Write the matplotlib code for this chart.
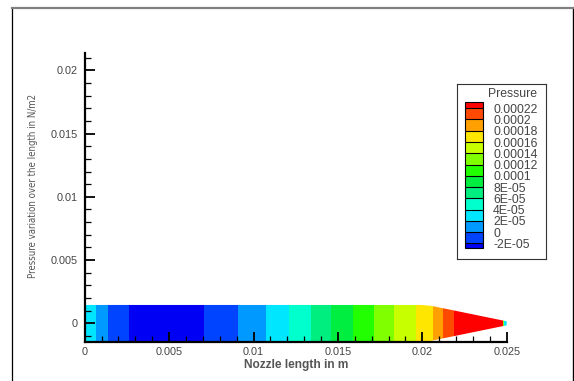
import numpy as np
import matplotlib.pyplot as plt
from matplotlib.colors import ListedColormap, BoundaryNorm
from matplotlib.patches import Polygon
from matplotlib.lines import Line2D
from matplotlib.ticker import MultipleLocator

# centreline pressure along the nozzle (m, N/m2)
x_nodes = [0.0, 0.00065, 0.00136, 0.00261, 0.0048, 0.00705, 0.00906, 0.01072,
           0.01209, 0.01339, 0.01457, 0.01588, 0.01712, 0.0183, 0.01961,
           0.02062, 0.02121, 0.02186, 0.0236, 0.02478, 0.02484, 0.025]
p_nodes = [4.3e-05, 2e-05, 0.0, -2e-05, -3e-05, -2e-05, 0.0, 2e-05,
           4e-05, 6e-05, 8e-05, 1e-04, 1.2e-04, 1.4e-04, 1.6e-04,
           1.8e-04, 2e-04, 2.2e-04, 2.35e-04, 2.3e-04, 3e-05, 3e-05]

# nozzle wall (half height) along x
x_wall = [0.0, 0.0199, 0.0205, 0.025]
h_wall = [0.00145, 0.00145, 0.00139, 0.00016]

# contour levels and legend
levels = [-2e-05, 0.0, 2e-05, 4e-05, 6e-05, 8e-05, 1e-04, 1.2e-04,
          1.4e-04, 1.6e-04, 1.8e-04, 2e-04, 2.2e-04]
level_labels = ['-2E-05', '0', '2E-05', '4E-05', '6E-05', '8E-05', '0.0001',
                '0.00012', '0.00014', '0.00016', '0.00018', '0.0002', '0.00022']
band_colors = ['#0044ff', '#0099ff', '#00e6ff', '#00ffcc', '#00ee80', '#00ee40',
               '#22ff00', '#80ff00', '#c8ff00', '#ffe600', '#ffa000', '#ff4800']
under_color = '#0000f5'
over_color = '#ff0000'

x_ticks = [0, 0.005, 0.01, 0.015, 0.02, 0.025]
x_labels = ['0', '0.005', '0.01', '0.015', '0.02', '0.025']
y_ticks = [0, 0.005, 0.01, 0.015, 0.02]
y_labels = ['0', '0.005', '0.01', '0.015', '0.02']

plt.rcParams['font.family'] = ['Liberation Sans', 'DejaVu Sans']
W, H = 574, 381
fig = plt.figure(figsize=(W / 100, H / 100), dpi=100)

ax = fig.add_axes([84.7 / W, 1 - 342 / H, 422 / W, 288.7 / H])

xg = np.linspace(0, 0.025, 1200)
yg = np.linspace(-0.0016, 0.0016, 40)
X, Y = np.meshgrid(xg, yg)
P = np.interp(X, x_nodes, p_nodes)

cmap = ListedColormap(band_colors)
cmap.set_under(under_color)
cmap.set_over(over_color)
norm = BoundaryNorm(levels, cmap.N)
cs = ax.contourf(X, Y, P, levels=levels, cmap=cmap, norm=norm, extend='both',
                 antialiased=False)

# clip the flood to the nozzle outline
outline = np.column_stack([np.r_[x_wall, x_wall[::-1]],
                           np.r_[h_wall, -np.array(h_wall[::-1])]])
nozzle = Polygon(outline, closed=True, transform=ax.transData)
cs.set_clip_path(nozzle)

ax.set_xlim(0, 0.025)
ax.set_ylim(-0.001478, 0.021344)
ax.set_xticks(x_ticks)
ax.set_xticklabels(x_labels)
ax.set_yticks(y_ticks)
ax.set_yticklabels(y_labels)
ax.xaxis.set_minor_locator(MultipleLocator(0.001))
ax.yaxis.set_minor_locator(MultipleLocator(0.001))
for side in ['top', 'right']:
    ax.spines[side].set_visible(False)
for side in ['left', 'bottom']:
    ax.spines[side].set_linewidth(1.6)
ax.tick_params(which='major', direction='in', length=7, width=1.3,
               labelsize=7.8, labelcolor='#444444')
ax.tick_params(which='minor', direction='in', length=4, width=0.9)
ax.tick_params(axis='x', pad=3.5)
ax.tick_params(axis='y', pad=5)

ax.set_xlabel('Nozzle length in m', fontsize=8.6, fontweight='bold',
              color='#555555', labelpad=1.5)
fig.text(33 / W, 1 - 186 / H, 'Pressure variation over the length in N/m2',
         rotation=90, ha='center', va='center', fontsize=6.9, color='#555555',
         family=['Liberation Sans Narrow', 'DejaVu Sans'], fontstretch='condensed')

# legend box
lax = fig.add_axes([457.3 / W, 1 - 259 / H, 88.7 / W, 175 / H])
lax.set_xticks([])
lax.set_yticks([])
for s in lax.spines.values():
    s.set_linewidth(0.8)
    s.set_color('#333333')
fig.text(488 / W, 1 - 94 / H, 'Pressure', ha='left', va='center',
         fontsize=8.8, color='#444444')

cax = fig.add_axes([465 / W, 1 - 248.3 / H, 18.3 / W, 146 / H])
cbar = fig.colorbar(cs, cax=cax, ticks=levels, drawedges=True,
                    extendrect=True, extendfrac=(0.037, 0.044))
cbar.set_ticklabels(level_labels)
cbar.outline.set_linewidth(0.8)
cbar.dividers.set_linewidth(0.8)
cax.tick_params(length=0, pad=7, labelsize=8.8, labelcolor='#444444')

# outer frame
fy = 1 - 8.3 / H
fig.add_artist(Line2D([12.3 / W, 12.3 / W], [0, fy], color='k', lw=0.9))
fig.add_artist(Line2D([572.8 / W, 572.8 / W], [0, fy], color='k', lw=1.0))
fig.add_artist(Line2D([12.3 / W, 572.8 / W], [fy, fy], color='#808080', lw=1.6))

fig.savefig('out.png', dpi=100)
